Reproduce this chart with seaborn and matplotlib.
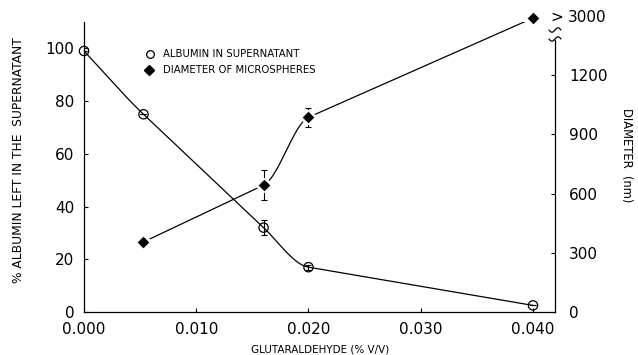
import numpy as np
import pandas as pd
import matplotlib
matplotlib.use("Agg")
import matplotlib.pyplot as plt
from matplotlib.lines import Line2D
import seaborn as sns

# Glutaraldehyde concentration (% v/v)
glut_alb = [0.000, 0.0053, 0.016, 0.020, 0.040]
albumin_pct = [99.0, 75.0, 32.0, 17.0, 2.5]
albumin_err = [0.0, 0.0, 2.8, 1.0, 0.0]

glut_dia = [0.0053, 0.016, 0.020, 0.040]
# last point (3000 nm) is drawn above the axis break at 1490 on the scale
diameter_nm = [355.0, 643.0, 987.0, 1490.0]
diameter_err = [0.0, 77.0, 48.0, 0.0]

x_ticks = [0.000, 0.010, 0.020, 0.030, 0.040]
left_ticks = [0, 20, 40, 60, 80, 100]
right_ticks = [0, 300, 600, 900, 1200]
broken_label = "3000"

sns.set_theme(style="white")
plt.rcParams["font.family"] = ["DejaVu Sans"]


def smooth_curve(x, y, xs):
    """Cubic Hermite curve; each knot takes the slope of its longer neighbouring span."""
    x = np.asarray(x, float)
    y = np.asarray(y, float)
    h = np.diff(x)
    s = np.diff(y) / h
    d = np.zeros_like(y)
    d[0], d[-1] = s[0], s[-1]
    for k in range(1, len(x) - 1):
        d[k] = s[k - 1] if h[k - 1] >= h[k] else s[k]
    out = np.empty_like(xs)
    idx = np.clip(np.searchsorted(x, xs) - 1, 0, len(x) - 2)
    for i, (xv, k) in enumerate(zip(xs, idx)):
        t = (xv - x[k]) / h[k]
        h00 = 2 * t**3 - 3 * t**2 + 1
        h10 = t**3 - 2 * t**2 + t
        h01 = -2 * t**3 + 3 * t**2
        h11 = t**3 - t**2
        out[i] = h00 * y[k] + h10 * h[k] * d[k] + h01 * y[k + 1] + h11 * h[k] * d[k + 1]
    return out


fig = plt.figure(figsize=(6.38, 3.55), dpi=100)
ax = fig.add_axes([84 / 638, 1 - 312 / 355, (555 - 84) / 638, (312 - 22) / 355])
ax2 = ax.twinx()

ax.set_xlim(0, 0.04196)
ax.set_ylim(0, 110)
ax2.set_ylim(0, 1470)

lw = 0.9

# albumin curve, error bars and open circles
xs_a = np.linspace(glut_alb[0], glut_alb[-1], 400)
curve_a = pd.DataFrame({"x": xs_a, "y": smooth_curve(glut_alb, albumin_pct, xs_a)})
sns.lineplot(data=curve_a, x="x", y="y", ax=ax, color="black", lw=lw,
             estimator=None, zorder=2)
ax.errorbar(glut_alb, albumin_pct, yerr=albumin_err, fmt="none", ecolor="black",
            elinewidth=0.8, capsize=2.5, capthick=0.8, zorder=3)
alb_df = pd.DataFrame({"x": glut_alb, "y": albumin_pct})
sns.scatterplot(data=alb_df, x="x", y="y", ax=ax, marker="o", s=45,
                color="black", linewidth=0.9, zorder=4, clip_on=False)
ax.collections[-1].set_facecolor("none")
ax.collections[-1].set_edgecolor("black")

# diameter curve, error bars and filled diamonds (with a white halo gap)
xs_d = np.linspace(glut_dia[0], glut_dia[-1], 400)
curve_d = pd.DataFrame({"x": xs_d, "y": smooth_curve(glut_dia, diameter_nm, xs_d)})
sns.lineplot(data=curve_d, x="x", y="y", ax=ax2, color="black", lw=lw,
             estimator=None, zorder=2)
dia_df = pd.DataFrame({"x": glut_dia, "y": diameter_nm})
sns.scatterplot(data=dia_df, x="x", y="y", ax=ax2, marker="D", s=95,
                color="white", edgecolor="white", linewidth=0, zorder=3, clip_on=False)
ax2.errorbar(glut_dia, diameter_nm, yerr=diameter_err, fmt="none", ecolor="black",
             elinewidth=0.8, capsize=2.5, capthick=0.8, zorder=4)
sns.scatterplot(data=dia_df, x="x", y="y", ax=ax2, marker="D", s=48,
                color="black", edgecolor="white", linewidth=1.0, zorder=5, clip_on=False)

# axes styling
for a in (ax, ax2):
    a.spines["top"].set_visible(False)
    a.set_xlabel("")
    a.set_ylabel("")
    for sp in a.spines.values():
        sp.set_color("black")
        sp.set_linewidth(0.9)
ax.spines["right"].set_visible(False)
ax2.spines["left"].set_visible(False)
ax2.spines["bottom"].set_visible(False)
ax2.spines["right"].set_bounds(0, 1380)

ax.set_xticks(x_ticks)
ax.set_xticklabels([f"{v:.3f}" for v in x_ticks])
ax.set_yticks(left_ticks)
ax.set_yticklabels([str(v) for v in left_ticks])
ax2.set_yticks(right_ticks)
ax2.set_yticklabels([str(v) for v in right_ticks])

ax.tick_params(axis="x", direction="in", length=3, width=0.8, pad=7,
               labelsize=11, colors="black", bottom=True)
ax.tick_params(axis="y", direction="in", length=3, width=0.8, pad=7,
               labelsize=11, colors="black", left=True)
ax2.tick_params(axis="y", direction="in", length=3, width=0.8, pad=10,
                labelsize=11, colors="black", right=True)

# axis titles
fig.text(19 / 638, 1 - 160 / 355, "% ALBUMIN LEFT IN THE  SUPERNATANT",
         rotation=90, ha="center", va="center", fontsize=8.8, color="black")
fig.text(627 / 638, 1 - 155 / 355, "DIAMETER  (nm)", rotation=-90,
         ha="center", va="center", fontsize=8.3, color="black")
fig.text(320 / 638, 1 - 349 / 355, "GLUTARALDEHYDE (% V/V)",
         ha="center", va="center", fontsize=7.5, color="black")

# key
fig.add_artist(Line2D([150 / 638], [1 - 54 / 355], marker="o", markersize=5.5,
                      markerfacecolor="none", markeredgecolor="black",
                      markeredgewidth=0.9, linestyle="none"))
fig.add_artist(Line2D([149 / 638], [1 - 70 / 355], marker="D", markersize=5,
                      markerfacecolor="black", markeredgecolor="black",
                      linestyle="none"))
fig.text(163 / 638, 1 - 54 / 355, "ALBUMIN IN SUPERNATANT", ha="left",
         va="center", fontsize=7.3, color="black")
fig.text(163 / 638, 1 - 70 / 355, "DIAMETER OF MICROSPHERES", ha="left",
         va="center", fontsize=7.3, color="black")

# axis break marks and the off-scale value label
for yb in (30, 39):
    t = np.linspace(0, 1, 30)
    xb = (549 + 12 * t) / 638
    ybv = 1 - (yb + 2.2 * np.sin(2 * np.pi * t)) / 355
    fig.add_artist(Line2D(xb, ybv, color="black", lw=0.9))
fig.text(557 / 638, 1 - 17 / 355, ">", ha="center", va="center",
         fontsize=11, color="black")
fig.text(568 / 638, 1 - 18 / 355, broken_label, ha="left", va="center",
         fontsize=11, color="black")

fig.savefig("out.png", dpi=100, facecolor="white")
